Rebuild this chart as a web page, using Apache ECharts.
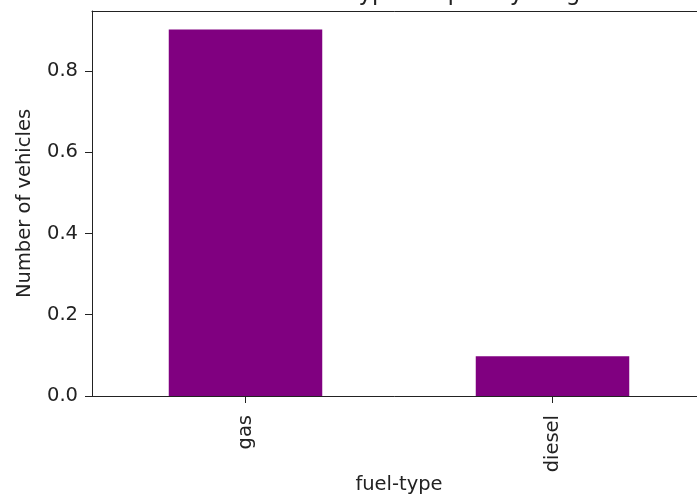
<!DOCTYPE html>
<html>
<head>
<meta charset="utf-8">
<script src="https://cdn.jsdelivr.net/npm/echarts@6/dist/echarts.min.js"></script>
<style>
  html, body { margin: 0; padding: 0; background: #fff; }
  #chart { width: 697px; height: 501px; }
</style>
</head>
<body>
<div id="chart"></div>
<script>
const titleText = 'Fuel type frequency diagram';
const categories = ['gas', 'diesel'];
const values = [0.902, 0.098];
const yTicks = [0, 0.2, 0.4, 0.6, 0.8];
const yMax = 0.9475;
const xName = 'fuel-type';
const yName = 'Number of vehicles';

const FONT = 'DejaVu Sans';
const TXT = '#222';
const AXIS = '#222';

const chart = echarts.init(document.getElementById('chart'), null, { renderer: 'canvas' });
chart.setOption({
  backgroundColor: '#fff',
  animation: false,
  title: {
    text: titleText,
    left: 290,
    top: -22,
    textStyle: { fontFamily: FONT, fontSize: 23, fontWeight: 'normal', color: TXT }
  },
  grid: {
    left: 92, top: 11, width: 614, height: 385,
    outerBoundsMode: 'none',
    containLabel: false,
    show: false
  },
  xAxis: [{
    type: 'category',
    data: categories,
    boundaryGap: true,
    name: xName,
    nameLocation: 'middle',
    nameGap: 79,
    nameMoveOverlap: false,
    nameTextStyle: { fontFamily: FONT, fontSize: 19.5, color: TXT },
    axisLine: { show: true, lineStyle: { color: AXIS, width: 1 } },
    axisTick: { show: true, alignWithLabel: true, length: 7, lineStyle: { color: AXIS, width: 1 } },
    axisLabel: { rotate: 90, margin: 19, fontFamily: FONT, fontSize: 19.5, color: TXT },
    splitLine: { show: false }
  }, {
    type: 'category',
    data: categories,
    position: 'top',
    axisLine: { show: true, onZero: false, lineStyle: { color: AXIS, width: 1 } },
    axisTick: { show: false },
    axisLabel: { show: false },
    splitLine: { show: false }
  }],
  yAxis: {
    type: 'value',
    min: 0,
    max: yMax,
    interval: 0.2,
    name: yName,
    nameLocation: 'middle',
    nameGap: 57,
    nameMoveOverlap: false,
    nameTextStyle: { fontFamily: FONT, fontSize: 19.5, color: TXT },
    axisLine: { show: true, lineStyle: { color: AXIS, width: 1 } },
    axisTick: { show: true, length: 7, customValues: yTicks, lineStyle: { color: AXIS, width: 1 } },
    axisLabel: {
      margin: 14, fontFamily: FONT, fontSize: 19.5, color: TXT,
      customValues: yTicks,
      formatter: v => v.toFixed(1)
    },
    splitLine: { show: false }
  },
  series: [{
    type: 'bar',
    data: values,
    barWidth: '50%',
    itemStyle: { color: '#800080' }
  }]
});
</script>
</body>
</html>
